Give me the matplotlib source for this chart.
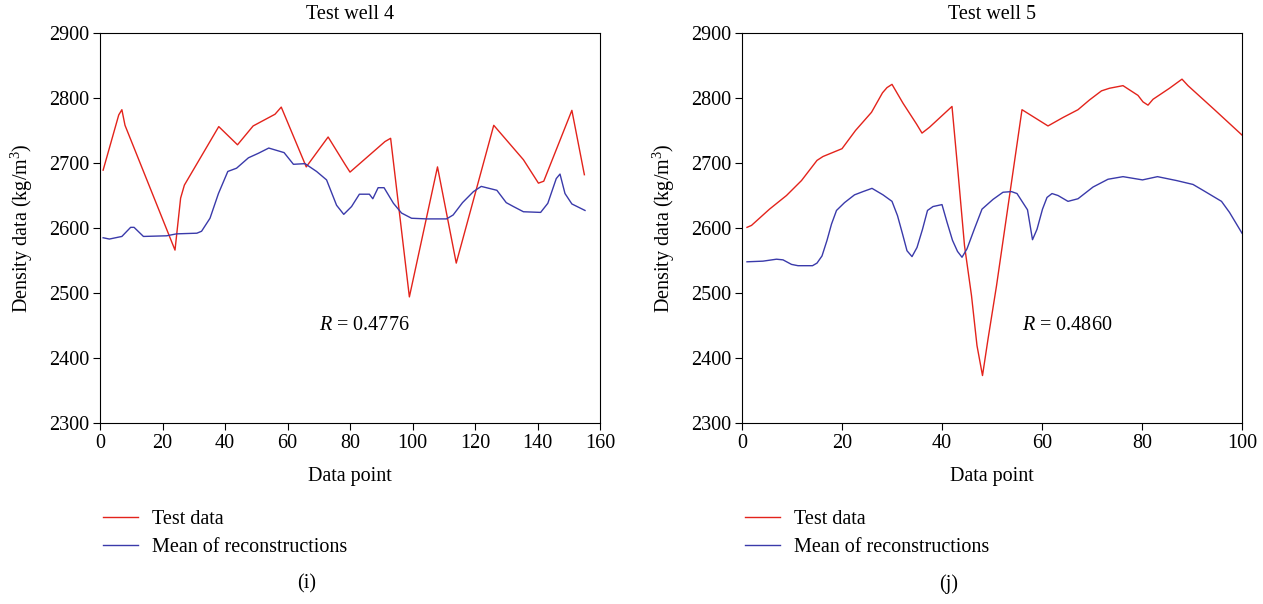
import matplotlib
matplotlib.use("Agg")
import matplotlib.pyplot as plt

plt.rcParams['font.family'] = ['Liberation Serif', 'DejaVu Serif']
plt.rcParams['mathtext.fontset'] = 'custom'
plt.rcParams['mathtext.it'] = 'Liberation Serif:italic'
plt.rcParams['mathtext.rm'] = 'Liberation Serif'

RED = '#e3231b'
BLUE = '#3a3aaa'

# Test well 4
w4_test_x = [1, 6, 7, 8, 24, 25.8, 27, 38, 44, 49, 56, 58, 66, 73, 78.4, 80, 91.2, 93, 99, 108, 114, 126, 135.5, 140.3, 142, 151, 155]
w4_test_y = [2689, 2774, 2782, 2758, 2566, 2646, 2666, 2756, 2728, 2757, 2775, 2786, 2694, 2740, 2698, 2686, 2733, 2738, 2494, 2694, 2546, 2758, 2705, 2669, 2672, 2781, 2682]
w4_mean_x = [1, 3, 7, 9.8, 10.9, 13.9, 21.3, 24.5, 31, 32.5, 35.2, 37.9, 40.9, 43.7, 47.5, 50.7, 54, 58.9, 61.9, 65.6, 69.3, 72.5, 75.7, 78, 80.5, 83, 86.2, 87.3, 89, 90.9, 93.9, 96.5, 99.7, 104.5, 110.9, 113, 116, 119.5, 122, 127, 130, 132.3, 135.5, 141, 143.3, 146, 147.2, 148.8, 151, 155.2]
w4_mean_y = [2585, 2583, 2587, 2601, 2601, 2587, 2588, 2591, 2592, 2595, 2615, 2653, 2687, 2692, 2708, 2715, 2723, 2716, 2698, 2699, 2687, 2674, 2635, 2621, 2633, 2652, 2652, 2645, 2662, 2662, 2638, 2623, 2615, 2614, 2614, 2620, 2639, 2656, 2664, 2658, 2639, 2633, 2625, 2624, 2638, 2676, 2683, 2653, 2637, 2627]

# Test well 5
w5_test_x = [1, 1.9, 5.5, 8.9, 11.9, 15, 16.2, 20, 22.7, 25.9, 28.1, 29, 30, 32.2, 34.9, 36, 37.5, 42, 43.2, 44.5, 45.9, 47, 48.1, 49.2, 50.9, 56, 61.2, 64.2, 67.2, 69.5, 71.9, 73.5, 76.2, 79.2, 80.2, 81.2, 82.2, 85.5, 88, 89.2, 94.5, 100]
w5_test_y = [2601, 2604, 2629, 2650, 2673, 2704, 2710, 2722, 2750, 2778, 2808, 2816, 2821, 2792, 2760, 2746, 2755, 2787, 2686, 2573, 2496, 2419, 2373, 2429, 2511, 2782, 2757, 2770, 2782, 2797, 2811, 2815, 2819, 2804, 2794, 2789, 2798, 2815, 2829, 2819, 2782, 2743]
w5_mean_x = [1, 4.2, 6.9, 8.2, 9.9, 11.2, 14.1, 15, 16, 17, 17.9, 18.9, 20.5, 22.5, 24.2, 26, 28.2, 30, 31.1, 32.1, 33, 34, 35, 36.1, 37.1, 38.2, 40, 41, 42.1, 43.1, 44, 45, 46.5, 48, 50.2, 52.2, 53.9, 55, 57.1, 58.1, 59, 60.1, 61, 62, 63.2, 65.2, 67.2, 70.2, 73.2, 76.2, 80.1, 83.1, 86.9, 90.2, 92.2, 95.9, 97.5, 100]
w5_mean_y = [2548, 2549, 2552, 2551, 2544, 2542, 2542, 2546, 2557, 2581, 2606, 2627, 2639, 2651, 2656, 2661, 2651, 2641, 2619, 2591, 2565, 2556, 2570, 2598, 2627, 2633, 2636, 2609, 2581, 2564, 2555, 2568, 2599, 2629, 2644, 2655, 2656, 2653, 2628, 2582, 2598, 2629, 2647, 2653, 2650, 2641, 2645, 2663, 2675, 2679, 2674, 2679, 2673, 2667, 2658, 2641, 2624, 2592]

titles = ['Test well 4', 'Test well 5']
r_texts = ['$R$ = 0.4776', '$R$ = 0.4860']
panel_labels = ['(i)', '(j)']
legend_labels = ['Test data', 'Mean of reconstructions']
y_ticks = [2300, 2400, 2500, 2600, 2700, 2800, 2900]
x_ticks = [[0, 20, 40, 60, 80, 100, 120, 140, 160], [0, 20, 40, 60, 80, 100]]
x_limits = [(0, 160), (0, 100)]

fig = plt.figure(figsize=(12.63, 6.04), dpi=100)
W, H = 1263, 604
ax_lefts = [100, 742]
ax_w = 500
top_px, bot_px = 33, 423
FS = 14.5

data = [(w4_test_x, w4_test_y, w4_mean_x, w4_mean_y), (w5_test_x, w5_test_y, w5_mean_x, w5_mean_y)]
r_pos = [(84.5, 2450), (65, 2450)]

for i in range(2):
    ax = fig.add_axes([ax_lefts[i] / W, 1 - bot_px / H, ax_w / W, (bot_px - top_px) / H])
    tx, ty, mx, my = data[i]
    l1, = ax.plot(tx, ty, color=RED, lw=1.0, label=legend_labels[0])
    l2, = ax.plot(mx, my, color=BLUE, lw=1.0, label=legend_labels[1])
    ax.set_xlim(*x_limits[i])
    ax.set_ylim(2300, 2900)
    ax.set_xticks(x_ticks[i])
    ax.set_yticks(y_ticks)
    ax.tick_params(direction='out', length=5, width=0.8, labelsize=FS, top=False, right=False, pad=3)
    for s in ax.spines.values():
        s.set_linewidth(0.8)
    ax.set_title(titles[i], fontsize=FS, pad=10)
    ax.set_xlabel('Data point', fontsize=FS, labelpad=10)
    ax.set_ylabel('Density data (kg/m$^3$)', fontsize=FS, labelpad=10)
    ax.text(r_pos[i][0], r_pos[i][1], r_texts[i], fontsize=FS, ha='center', va='center')
    fig.legend(handles=[l1, l2], labels=legend_labels, loc='upper left',
               bbox_to_anchor=((ax_lefts[i] + 3) / W, 1 - 510 / H), frameon=False,
               fontsize=FS, handlelength=1.75, handletextpad=0.7, labelspacing=0.45,
               borderaxespad=0, borderpad=0)
    fig.text((ax_lefts[i] + 207) / W, 1 - 584 / H, panel_labels[i], fontsize=FS, ha='center', va='center')

fig.savefig('out.png', dpi=100)
